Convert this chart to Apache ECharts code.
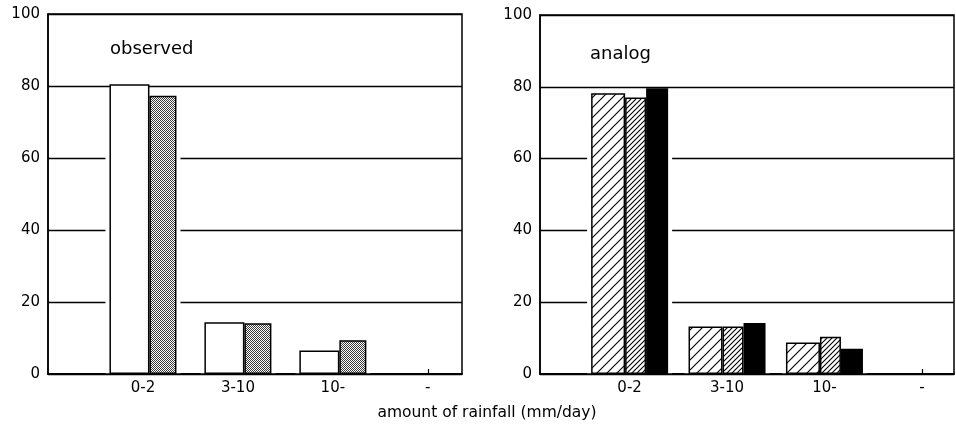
<!DOCTYPE html>
<html>
<head>
<meta charset="utf-8">
<script src="https://cdn.jsdelivr.net/npm/echarts@6/dist/echarts.min.js"></script>
<style>html,body{margin:0;padding:0;background:#fff}#c{width:956px;height:426px}</style>
</head>
<body>
<div id="c"></div>
<script>
// ---- data ----
const categories = ['0-2', '3-10', '10-', '-'];
const yTicks = [0, 20, 40, 60, 80, 100];
const observedA = [80.5, 14.4, 6.5];   // white bars
const observedB = [77.3, 14.1, 9.4];   // stippled bars
const analogA = [78.2, 13.2, 8.8];     // sparse hatch
const analogB = [77.0, 13.2, 10.4];    // dense hatch
const analogC = [79.6, 14.2, 7.0];     // black
const panelTitles = ['observed', 'analog'];
const xAxisName = 'amount of rainfall (mm/day)';

// ---- patterns ----
function hatch(s, lw) {
  const c = document.createElement('canvas');
  c.width = c.height = s;
  const g = c.getContext('2d');
  g.fillStyle = '#fff'; g.fillRect(0, 0, s, s);
  g.strokeStyle = '#000'; g.lineWidth = lw;
  g.beginPath();
  g.moveTo(-1, s + 1); g.lineTo(s + 1, -1);
  g.moveTo(-1, 1); g.lineTo(1, -1);
  g.moveTo(s - 1, s + 1); g.lineTo(s + 1, s - 1);
  g.stroke();
  return { image: c, repeat: 'repeat' };
}
function stipple() {
  const c = document.createElement('canvas');
  c.width = c.height = 4;
  const g = c.getContext('2d');
  g.fillStyle = '#fff'; g.fillRect(0, 0, 4, 4);
  g.fillStyle = '#3a3a3a';
  for (let y = 0; y < 4; y++) for (let x = 0; x < 4; x++) if ((x + y) % 2 === 0) g.fillRect(x, y, 1, 1);
  return { image: c, repeat: 'repeat' };
}

const pos = v => v.map((y, i) => [i + 1, y]);
const font = '"DejaVu Sans", "Liberation Sans", sans-serif';

function xAxisCfg(gi, min, max) {
  return {
    type: 'value', gridIndex: gi, min: min, max: max, position: 'bottom',
    axisLine: { show: true, onZero: false, lineStyle: { color: '#000', width: 1.5 } },
    axisTick: { show: true, inside: true, length: 5, customValues: [1, 2, 3, 4], lineStyle: { color: '#000', width: 1.2 } },
    axisLabel: { customValues: [1, 2, 3, 4], formatter: v => categories[Math.round(v) - 1] || '', color: '#000', fontSize: 15, fontFamily: font, margin: 7 },
    splitLine: { show: false }
  };
}
// overlay axis: carries the halo series and redraws the baseline above it
function xAxisOverlay(gi, min, max) {
  return {
    type: 'value', gridIndex: gi, min: min, max: max, z: 5, position: 'bottom', offset: 0,
    axisLine: { show: true, onZero: false, lineStyle: { color: '#000', width: 1.5 } },
    axisTick: { show: false }, axisLabel: { show: false }, splitLine: { show: false }
  };
}
function yAxisCfg(gi) {
  return {
    type: 'value', gridIndex: gi, min: yTicks[0], max: yTicks[yTicks.length - 1], interval: yTicks[1] - yTicks[0],
    axisLine: { show: true, lineStyle: { color: '#000', width: 1.5 } },
    axisTick: { show: false },
    axisLabel: { color: '#000', fontSize: 15, fontFamily: font, margin: 8 },
    splitLine: { show: true, lineStyle: { color: '#000', width: 1.3 } }
  };
}
function barSeries(gi, data, width, color) {
  return {
    type: 'bar', xAxisIndex: gi, yAxisIndex: gi, data: pos(data), barWidth: width, barGap: '0%',
    itemStyle: { color: color, borderColor: '#000', borderWidth: 1.5 }, z: 6
  };
}
// white gap that interrupts the grid lines around each bar group
function haloSeries(xi, yi, groups, width) {
  const lows = groups[0].map((_, i) => Math.min.apply(null, groups.map(g => g[i])));
  return {
    type: 'bar', xAxisIndex: xi, yAxisIndex: yi, data: pos(lows), barWidth: width,
    itemStyle: { color: '#fff' }, z: 3, silent: true
  };
}

const chart = echarts.init(document.getElementById('c'), null, { renderer: 'canvas' });
chart.setOption({
  animation: false,
  backgroundColor: '#fff',
  grid: [
    { left: 48, right: 494, top: 14, bottom: 52, show: true, borderColor: '#000', borderWidth: 1.5 },
    { left: 540, right: 2, top: 15, bottom: 52, show: true, borderColor: '#000', borderWidth: 1.5 }
  ],
  xAxis: [xAxisCfg(0, 0, 4.36), xAxisCfg(1, 0.08, 4.33), xAxisOverlay(0, 0, 4.36), xAxisOverlay(1, 0.08, 4.33)],
  yAxis: [yAxisCfg(0), yAxisCfg(1)],
  series: [
    haloSeries(2, 0, [observedA, observedB], 75),
    haloSeries(3, 1, [analogA, analogB, analogC], 85),
    barSeries(0, observedA, 40, '#fff'),
    barSeries(0, observedB, 27, stipple()),
    barSeries(1, analogA, 34, hatch(10, 1.1)),
    barSeries(1, analogB, 21, hatch(5, 1.1)),
    barSeries(1, analogC, 22, '#000')
  ],
  graphic: [
    { type: 'text', left: 110, top: 40, style: { text: panelTitles[0], fontSize: 18, fontFamily: font, fill: '#000' } },
    { type: 'text', left: 590, top: 45, style: { text: panelTitles[1], fontSize: 18, fontFamily: font, fill: '#000' } },
    { type: 'text', x: 487, y: 413, style: { text: xAxisName, fontSize: 15.5, fontFamily: font, fill: '#000', align: 'center', verticalAlign: 'middle' } }
  ]
});
</script>
</body>
</html>
